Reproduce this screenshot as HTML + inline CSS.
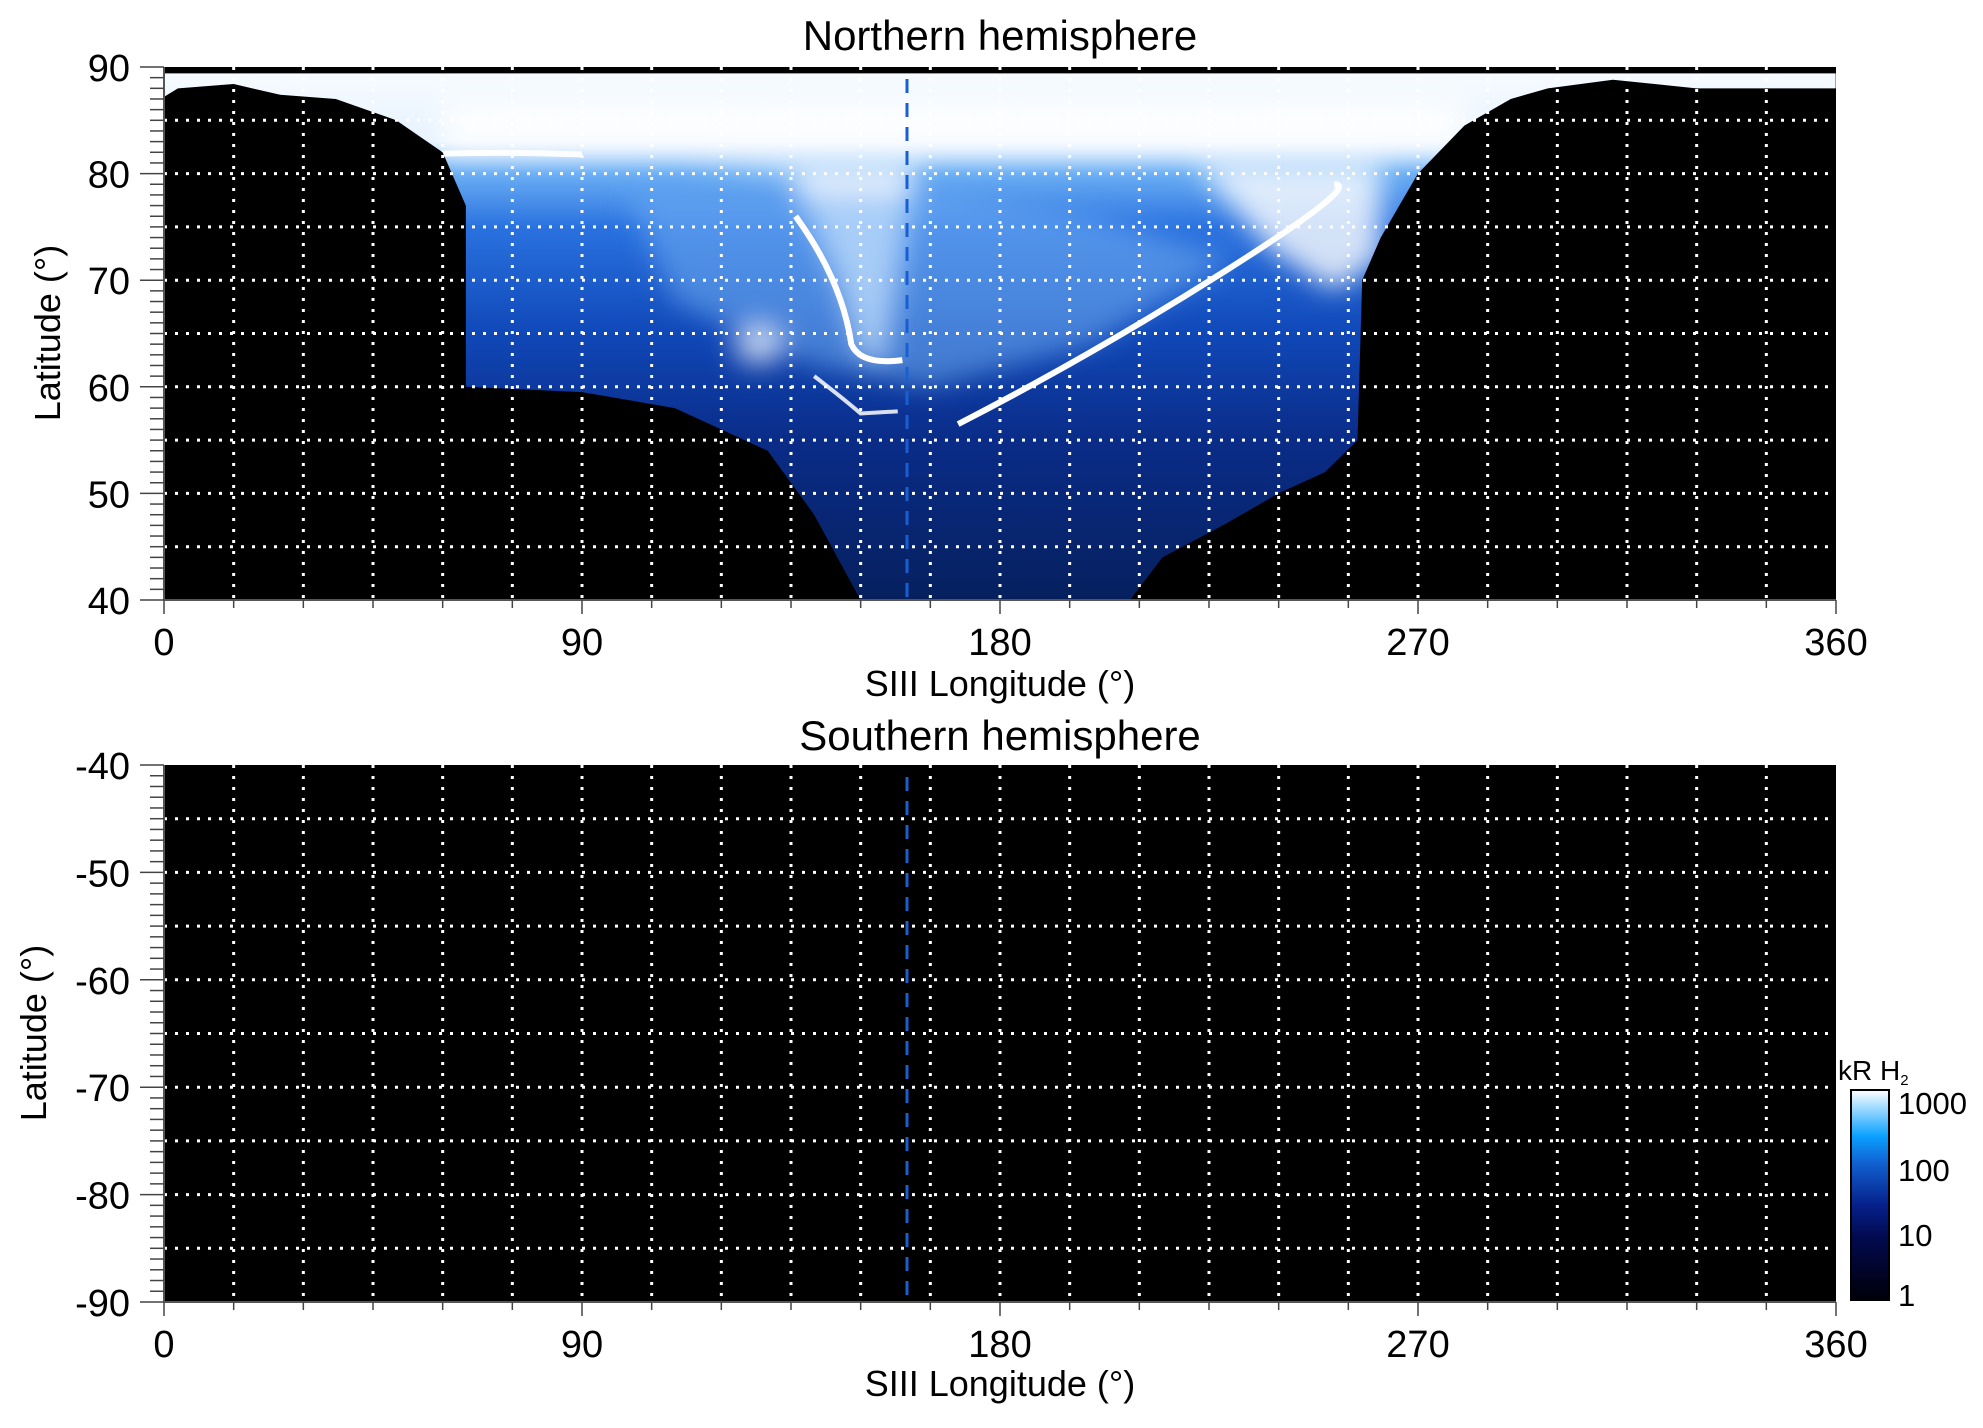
<!DOCTYPE html>
<html><head><meta charset="utf-8"><style>
html,body{margin:0;padding:0;background:#fff;}
svg text{font-family:"Liberation Sans",sans-serif;fill:#000;}
</style></head><body>
<svg id="s" width="1983" height="1423" viewBox="0 0 1983 1423" xmlns="http://www.w3.org/2000/svg">
<defs>
<linearGradient id="ag" x1="0" y1="0" x2="0" y2="50" gradientUnits="userSpaceOnUse">
<stop offset="0" stop-color="#f8fcff"/>
<stop offset="0.14" stop-color="#e6f2ff"/>
<stop offset="0.2" stop-color="#6aaef4"/>
<stop offset="0.3" stop-color="#2a72e0"/>
<stop offset="0.5" stop-color="#1048b8"/>
<stop offset="0.7" stop-color="#0a2c88"/>
<stop offset="1" stop-color="#06205e"/>
</linearGradient>
<linearGradient id="cb" x1="0" y1="1" x2="0" y2="0">
<stop offset="0" stop-color="#000008"/>
<stop offset="0.3" stop-color="#020a50"/>
<stop offset="0.45" stop-color="#06208a"/>
<stop offset="0.65" stop-color="#1060d0"/>
<stop offset="0.78" stop-color="#0aa0ff"/>
<stop offset="1" stop-color="#ffffff"/>
</linearGradient>
<clipPath id="c1"><polygon points="0,0.6 360,0.6 360,2 330,2 312,1.2 298,2 290,3 280,5.5 270,10 262,16 258,20 257,35 250,38 240,40 228,43 215,46 208,50 150,50 140,42 130,36 110,32 90,30.5 65,30 65,13 60,8 50,5 37,3 25,2.6 15,1.6 3,2 0,2.8"/></clipPath>
<filter id="bl" x="-20%" y="-20%" width="140%" height="140%"><feGaussianBlur stdDeviation="3 1.2"/></filter>
</defs>
<!-- top plot -->
<rect x="164" y="67" width="1672" height="533" fill="#000"/>
<g transform="translate(164,67) scale(4.644,10.66)">
<g clip-path="url(#c1)">
<rect x="0" y="0" width="360" height="50" fill="url(#ag)"/>
<g filter="url(#bl)">
<polygon fill="#ffffff" opacity="0.85" points="60,8 280,8 280,3 60,3"/>
<polygon fill="#ffffff" opacity="0.8" points="112,9 135,10 145,20 150,27 155,28 158,20 162,9"/>
<polygon fill="#ffffff" opacity="0.8" points="222,9 262,9 262,18 252,21 238,17"/>
<polygon fill="#7ab8f8" opacity="0.5" points="100,12 170,12 200,14 230,18 200,26 165,30 140,28 110,22"/>
<ellipse cx="128" cy="26" rx="5" ry="2" fill="#ffffff" opacity="0.7"/>
</g>
<g fill="none" stroke="#ffffff">
<path d="M171,33.5 Q200,27 229,19 T252,11" stroke-width="6" vector-effect="non-scaling-stroke"/>
<path d="M136,14 Q146,20 148,26 Q150,28 159,27.5" stroke-width="6" vector-effect="non-scaling-stroke"/>
<path d="M140,29 Q146,31 150,32.5 L158,32.3" stroke-width="4" opacity="0.85" vector-effect="non-scaling-stroke"/>
<path d="M56,8.2 Q70,7.9 90,8.2" stroke-width="6" opacity="0.95" vector-effect="non-scaling-stroke"/>
</g>
</g>
<rect x="0" y="0" width="360" height="0.5" fill="#000"/>
</g>
<g id="g1"></g>
<!-- bottom plot -->
<rect x="164" y="765" width="1672" height="537" fill="#000"/>
<g id="g2"></g>
<!-- titles -->
<text x="1000" y="50" font-size="42" text-anchor="middle">Northern hemisphere</text>
<text x="1000" y="750" font-size="42" text-anchor="middle">Southern hemisphere</text>
<text x="1000" y="696" font-size="36" text-anchor="middle">SIII Longitude (°)</text>
<text x="1000" y="1396" font-size="36" text-anchor="middle">SIII Longitude (°)</text>
<text transform="translate(60,333) rotate(-90)" font-size="36" text-anchor="middle">Latitude (°)</text>
<text transform="translate(46,1033) rotate(-90)" font-size="36" text-anchor="middle">Latitude (°)</text>
<!-- colorbar -->
<rect x="1851" y="1090" width="38" height="210" fill="url(#cb)" stroke="#000" stroke-width="2"/>
<text x="1838" y="1080" font-size="28">kR H<tspan font-size="15" dy="5">2</tspan></text>
<text x="1898" y="1114" font-size="31">1000</text>
<text x="1898" y="1181" font-size="31">100</text>
<text x="1898" y="1246" font-size="31">10</text>
<text x="1898" y="1306" font-size="31">1</text>
</svg>
<script>
var NS="http://www.w3.org/2000/svg";
function el(p,t,a,txt){var e=document.createElementNS(NS,t);for(var k in a)e.setAttribute(k,a[k]);if(txt!==undefined)e.textContent=txt;p.appendChild(e);return e;}
function plot(gid,top,bot,labs){
 var g=document.getElementById(gid),L=164,R=1836,H=bot-top;
 for(var i=1;i<24;i++){var x=L+i*(R-L)/24;el(g,'line',{x1:x,x2:x,y1:top,y2:bot,stroke:'#fff','stroke-width':3,'stroke-dasharray':'3 8'});}
 for(var j=1;j<10;j++){var y=top+j*H/10;el(g,'line',{x1:L,x2:R,y1:y,y2:y,stroke:'#fff','stroke-width':3,'stroke-dasharray':'3 8'});}
 el(g,'line',{x1:907,x2:907,y1:top+12,y2:bot,stroke:'#1a5fd0','stroke-width':3,'stroke-dasharray':'14 10'});
 el(g,'line',{x1:L,x2:R,y1:bot,y2:bot,stroke:'#555','stroke-width':2});
 el(g,'line',{x1:L,x2:L,y1:top,y2:bot,stroke:'#555','stroke-width':2});
 for(var k=0;k<=50;k++){var y=top+k*H/50;var len=(k%10==0)?24:14;el(g,'line',{x1:L-len,x2:L,y1:y,y2:y,stroke:'#444','stroke-width':1.5});}
 for(var i=0;i<=24;i++){var x=L+i*(R-L)/24;var len=(i%6==0)?14:8;el(g,'line',{x1:x,x2:x,y1:bot,y2:bot+len,stroke:'#444','stroke-width':1.5});}
 for(var k=0;k<6;k++){el(g,'text',{x:130,y:top+k*H/5+14,'font-size':38,'text-anchor':'end'},labs[k]);}
 var xl=['0','90','180','270','360'];
 for(var i=0;i<5;i++){el(g,'text',{x:L+i*(R-L)/4,y:bot+55,'font-size':38,'text-anchor':'middle'},xl[i]);}
}
plot('g1',67,600,['90','80','70','60','50','40']);
plot('g2',765,1302,['-40','-50','-60','-70','-80','-90']);
</script>
</body></html>
